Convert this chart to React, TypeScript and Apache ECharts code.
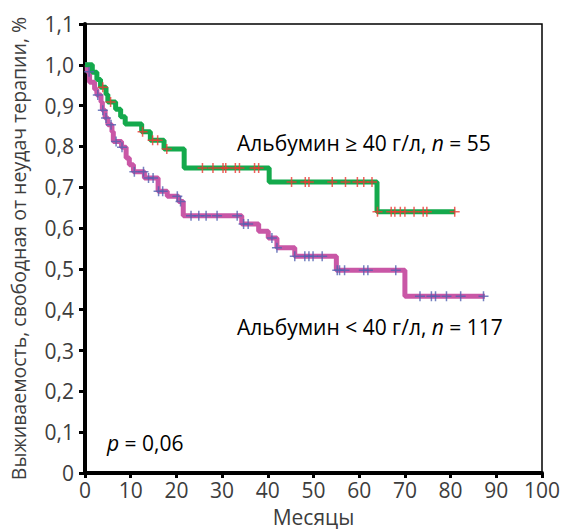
import React, { useEffect, useRef } from "react";
import * as echarts from "echarts";

// Albumin >= 40 g/l (n = 55): event times (months) and survival after each step
const highTimes = [0, 1.6, 2.6, 3.4, 4.6, 5.0, 6.7, 7.8, 8.8, 12.4, 14.3, 17.3, 21.7, 40.3, 63.9, 81.0];
const highSurvival = [1.0, 0.982, 0.964, 0.945, 0.927, 0.909, 0.891, 0.873, 0.855, 0.836, 0.815, 0.794, 0.747, 0.713, 0.64, 0.64];
const highCensored = [3.9, 5.6, 12.6, 14.8, 15.9, 17.9, 25.7, 28.0, 30.2, 30.8, 32.9, 33.8, 37.1, 38.0, 45.2, 48.2, 49.0, 54.1, 57.0, 59.6, 61.0, 62.8, 64.0, 67.0, 67.8, 69.0, 70.0, 72.0, 74.0, 74.8, 80.9];

// Albumin < 40 g/l (n = 117)
const lowTimes = [0, 0.5, 1.0, 2.1, 2.6, 3.5, 3.8, 4.4, 5.0, 5.9, 6.2, 8.0, 9.0, 9.7, 10.6, 13.0, 16.0, 18.0, 20.5, 21.5, 34.3, 38.0, 40.1, 42.0, 45.9, 55.0, 70.0, 87.5];
const lowSurvival = [1.0, 0.983, 0.957, 0.94, 0.926, 0.909, 0.889, 0.87, 0.853, 0.836, 0.812, 0.798, 0.772, 0.755, 0.738, 0.723, 0.69, 0.678, 0.665, 0.63, 0.61, 0.592, 0.576, 0.552, 0.531, 0.497, 0.433, 0.433];
const lowCensored = [0.9, 2.8, 3.9, 4.6, 5.7, 6.8, 8.1, 10.8, 12.8, 13.9, 14.9, 16.1, 17.0, 20.2, 20.9, 23.2, 24.9, 26.5, 28.9, 33.3, 34.7, 35.7, 40.9, 42.0, 45.9, 48.1, 49.0, 49.9, 51.9, 55.2, 55.7, 56.8, 61.0, 61.9, 68.0, 73.3, 75.8, 76.7, 79.1, 82.2, 87.2];

const xTicks = { min: 0, max: 100, interval: 10 };
const yTicks = { min: 0, max: 1.1, interval: 0.1 };

const highLabel = { pre: "Альбумин ≥ 40 г/л, ", n: "n", post: " = 55" };
const lowLabel = { pre: "Альбумин < 40 г/л, ", n: "n", post: " = 117" };
const pLabel = { p: "p", post: " = 0,06" };
const xName = "Месяцы";
const yName = "Выживаемость, свободная от неудач терапии, %";

const FONT = "'Open Sans', 'Noto Sans', sans-serif";
const TEXT = "#3d3d3d";
const GREEN = "#14a94c";
const MAGENTA = "#c957a6";
const RED = "#ee3a35";
const BLUE = "#5262b0";
const PLUS = "path://M4.25,0h1.5v4.25h4.25v1.5h-4.25v4.25h-1.5v-4.25h-4.25v-1.5h4.25z";

function stepValue(times: number[], surv: number[], t: number) {
  let v = surv[0];
  for (let i = 0; i < times.length; i++) if (times[i] <= t) v = surv[i];
  return v;
}

export default function App() {
  const ref = useRef<HTMLDivElement>(null);
  useEffect(() => {
    document.body.style.margin = "0";
    const chart = echarts.init(ref.current!, null, { renderer: "svg" });
    const rich = {
      a: { fontFamily: FONT, fontSize: 21, color: TEXT },
      i: { fontFamily: FONT, fontSize: 21, color: TEXT, fontStyle: "italic" },
    };
    chart.setOption({
      animation: false,
      backgroundColor: "#fff",
      textStyle: { fontFamily: FONT },
      grid: {
        left: 82, right: 23, top: 24, bottom: 58,
        show: true, borderColor: "#000", borderWidth: 1.5, backgroundColor: "transparent",
      },
      xAxis: {
        type: "value", ...xTicks,
        name: xName, nameLocation: "middle", nameGap: 33,
        nameTextStyle: { fontSize: 21, color: TEXT, fontFamily: FONT },
        axisLine: { show: true, lineStyle: { color: "#000", width: 4 } },
        axisTick: { show: true, length: 5, lineStyle: { color: "#000", width: 3 } },
        axisLabel: { fontSize: 21, color: TEXT, margin: 6, fontFamily: FONT },
        splitLine: { show: false },
      },
      yAxis: {
        type: "value", ...yTicks,
        name: yName, nameLocation: "middle", nameGap: 57,
        nameTextStyle: { fontSize: 19.5, color: TEXT, fontFamily: FONT },
        axisLine: { show: true, lineStyle: { color: "#000", width: 4 } },
        axisTick: { show: true, length: 6, lineStyle: { color: "#000", width: 3 } },
        axisLabel: {
          fontSize: 21, color: TEXT, margin: 11, fontFamily: FONT,
          formatter: (v: number) => (Math.abs(v) < 1e-9 ? "0" : v.toFixed(1).replace(".", ",")),
        },
        splitLine: { show: false },
      },
      series: [
        {
          type: "line", step: "end", showSymbol: false, silent: true,
          data: lowTimes.map((t, i) => [t, lowSurvival[i]]),
          lineStyle: { color: MAGENTA, width: 5 }, z: 2,
        },
        {
          type: "line", step: "end", showSymbol: false, silent: true,
          data: highTimes.map((t, i) => [t, highSurvival[i]]),
          lineStyle: { color: GREEN, width: 5 }, z: 2,
        },
        {
          type: "scatter", symbol: PLUS, symbolSize: 10, silent: true,
          data: lowCensored.map((t) => [t, stepValue(lowTimes, lowSurvival, t)]),
          itemStyle: { color: BLUE }, z: 3,
        },
        {
          type: "scatter", symbol: PLUS, symbolSize: 10, silent: true,
          data: highCensored.map((t) => [t, stepValue(highTimes, highSurvival, t)]),
          itemStyle: { color: RED }, z: 3,
        },
      ],
      graphic: [
        {
          type: "text", left: 237, top: 132,
          style: { text: `{a|${highLabel.pre}}{i|${highLabel.n}}{a|${highLabel.post}}`, rich },
        },
        {
          type: "text", left: 237, top: 316,
          style: { text: `{a|${lowLabel.pre}}{i|${lowLabel.n}}{a|${lowLabel.post}}`, rich },
        },
        {
          type: "text", left: 107, top: 432,
          style: { text: `{i|${pLabel.p}}{a|${pLabel.post}}`, rich },
        },
      ],
    });
    return () => chart.dispose();
  }, []);
  return <div ref={ref} style={{ width: 565, height: 532 }} />;
}
